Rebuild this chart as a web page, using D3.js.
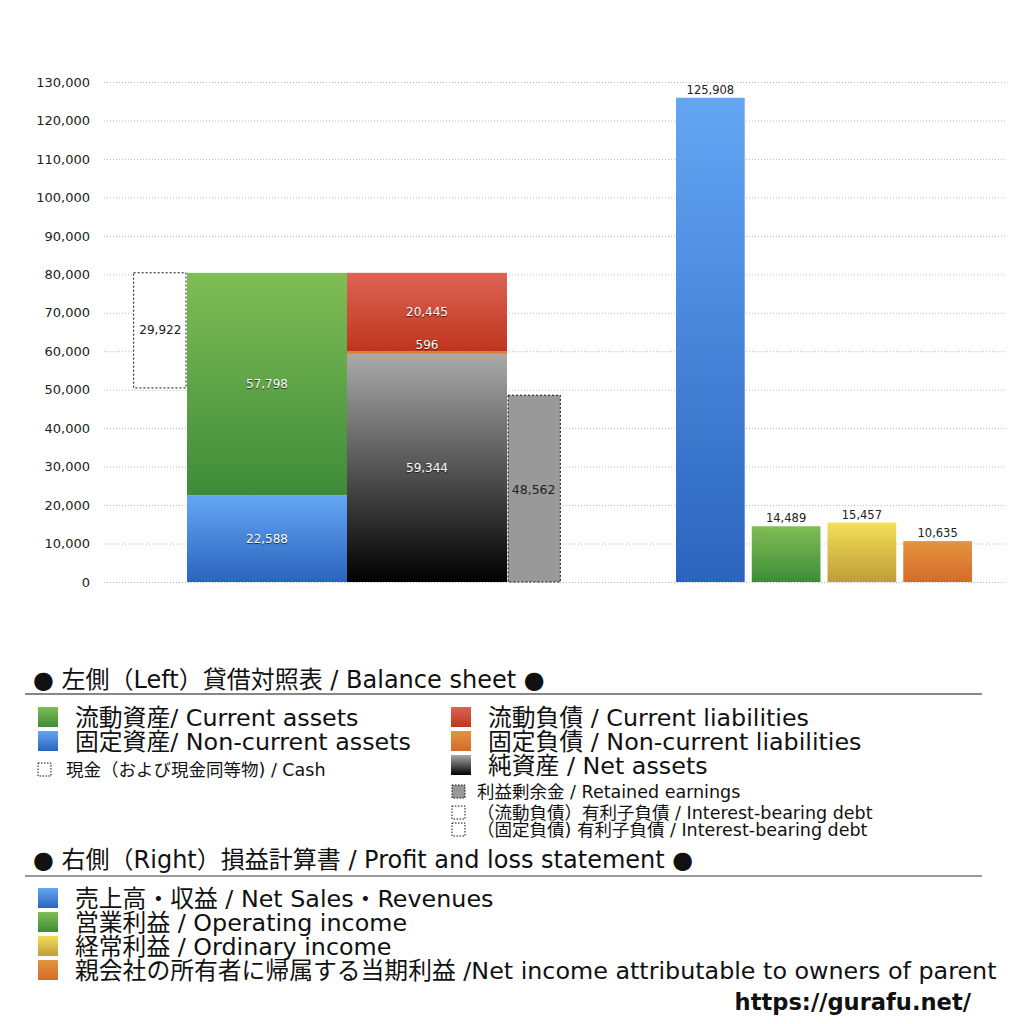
<!DOCTYPE html>
<html>
<head>
<meta charset="utf-8">
<script src="https://cdn.jsdelivr.net/npm/d3@7"></script>
<style>
  body { margin: 0; background: #fff; }
  text { font-family: "DejaVu Sans", "Noto Sans CJK JP", sans-serif; }
  .inlabel { fill: #fff; text-shadow: 0 1px 1px rgba(0,0,0,0.7); }
</style>
</head>
<body>
<div id="chart"></div>
<script>
// balance sheet (left)
var assetNames = ["固定資産", "流動資産"];
var assetValues = [22588, 57798];
var liabNames = ["純資産", "固定負債", "流動負債"];
var liabValues = [59344, 596, 20445];
var cashValue = 29922;
var retainedValue = 48562;

// profit and loss (right)
var plNames = ["売上高", "営業利益", "経常利益", "当期利益"];
var plValues = [125908, 14489, 15457, 10635];

var yTicks = [0, 10000, 20000, 30000, 40000, 50000, 60000, 70000, 80000, 90000, 100000, 110000, 120000, 130000];

var legendLeftA = ["流動資産/ Current assets", "固定資産/ Non-current assets"];
var legendLeftB = ["流動負債 /  Current liabilities", "固定負債 / Non-current liabilities", "純資産 / Net assets"];
var legendSmallA = ["現金（および現金同等物) / Cash"];
var legendSmallB = ["利益剰余金 / Retained earnings", "（流動負債）有利子負債 / Interest-bearing debt", "（固定負債) 有利子負債 / Interest-bearing debt"];
var legendRight = ["売上高・収益 / Net Sales・Revenues", "営業利益 / Operating income", "経常利益 / Ordinary income", "親会社の所有者に帰属する当期利益 /Net income attributable to owners of parent"];

var w = 1024, h = 1024;

var svg = d3.select("#chart").append("svg")
    .attr("width", w)
    .attr("height", h);

var defs = svg.append("defs");
function grad(id, top, bottom) {
    var g = defs.append("linearGradient").attr("id", id)
        .attr("x1", 0).attr("y1", 0).attr("x2", 0).attr("y2", 1);
    g.append("stop").attr("offset", "0%").attr("stop-color", top);
    g.append("stop").attr("offset", "100%").attr("stop-color", bottom);
}
grad("gBlue", "#64a6f4", "#2b64be");
grad("gGreen", "#80bd56", "#3e8c38");
grad("gRed", "#dd6456", "#bf351c");
grad("gOrange", "#e3953e", "#d46a29");
grad("gYellow", "#f4de58", "#bd9e38");
grad("gBlack", "#aaaaaa", "#000000");

var assetFills = ["url(#gBlue)", "url(#gGreen)"];
var liabFills = ["url(#gBlack)", "url(#gOrange)", "url(#gRed)"];
var plFills = ["url(#gBlue)", "url(#gGreen)", "url(#gYellow)", "url(#gOrange)"];

var y = d3.scaleLinear().domain([0, 130000]).range([582, 82]);

// gridlines + axis
var yaxis = d3.axisLeft(y)
    .tickValues(yTicks)
    .tickSize(-901)
    .tickPadding(14)
    .tickFormat(d3.format(","));

var ax = svg.append("g")
    .attr("transform", "translate(104,0)")
    .call(yaxis);
ax.select(".domain").remove();
ax.selectAll("line")
    .attr("stroke", "#bbb")
    .attr("stroke-dasharray", "1,2");
ax.selectAll("text")
    .style("font-size", "13px")
    .style("font-family", "'DejaVu Sans', sans-serif")
    .attr("fill", "#222");

// left: main columns
var xMain = d3.scaleBand()
    .domain(["assets", "liabilities"])
    .range([187, 507])
    .padding(0);
var side = xMain.bandwidth() / 3;

function stack(vals) {
    var acc = 0;
    return vals.map(function (v) { var s = acc; acc += v; return { y0: s, y1: acc, v: v }; });
}

var aStack = stack(assetValues);
var lStack = stack(liabValues);
var assetTotal = d3.sum(assetValues);

// cash (dashed)
svg.append("rect")
    .attr("x", xMain("assets") - side)
    .attr("width", side - 1)
    .attr("y", y(assetTotal))
    .attr("height", y(assetTotal - cashValue) - y(assetTotal))
    .attr("fill", "#fff")
    .attr("stroke", "#111")
    .attr("stroke-dasharray", "2,2");
svg.append("text")
    .attr("x", xMain("assets") - side / 2)
    .attr("y", y(assetTotal - cashValue / 2) + 4)
    .attr("text-anchor", "middle")
    .style("font-size", "12px")
    .attr("fill", "#222")
    .text(d3.format(",")(cashValue));

// retained earnings
svg.append("rect")
    .attr("x", xMain("liabilities") + xMain.bandwidth() + 1)
    .attr("width", side - 1)
    .attr("y", y(retainedValue))
    .attr("height", y(0) - y(retainedValue))
    .attr("fill", "#999")
    .attr("stroke", "#111")
    .attr("stroke-dasharray", "2,2");
svg.append("text")
    .attr("x", xMain("liabilities") + xMain.bandwidth() + side / 2)
    .attr("y", y(retainedValue / 2) + 5)
    .attr("text-anchor", "middle")
    .style("font-size", "12.5px")
    .attr("fill", "#222")
    .text(d3.format(",")(retainedValue));

svg.selectAll(".asset")
    .data(aStack)
    .enter().append("rect")
    .attr("x", xMain("assets"))
    .attr("width", xMain.bandwidth())
    .attr("y", function (d) { return y(d.y1); })
    .attr("height", function (d) { return y(d.y0) - y(d.y1); })
    .attr("fill", function (d, i) { return assetFills[i]; });

svg.selectAll(".liab")
    .data(lStack)
    .enter().append("rect")
    .attr("x", xMain("liabilities"))
    .attr("width", xMain.bandwidth())
    .attr("y", function (d) { return y(d.y1); })
    .attr("height", function (d) { return y(d.y0) - y(d.y1); })
    .attr("fill", function (d, i) { return liabFills[i]; });

svg.selectAll(".alabel")
    .data(aStack)
    .enter().append("text")
    .attr("class", "inlabel")
    .attr("x", xMain("assets") + xMain.bandwidth() / 2)
    .attr("y", function (d) { return y((d.y0 + d.y1) / 2) + 4; })
    .attr("text-anchor", "middle")
    .style("font-size", "12px")
    .text(function (d) { return d3.format(",")(d.v); });

svg.selectAll(".llabel")
    .data(lStack)
    .enter().append("text")
    .attr("class", "inlabel")
    .attr("x", xMain("liabilities") + xMain.bandwidth() / 2)
    .attr("y", function (d) {
        if (y(d.y0) - y(d.y1) < 14) return y(d.y1) - 2;
        return y((d.y0 + d.y1) / 2) + 4;
    })
    .attr("text-anchor", "middle")
    .style("font-size", "12px")
    .text(function (d) { return d3.format(",")(d.v); });

// right: P&L bars
var xPL = d3.scaleBand()
    .domain(plNames)
    .range([676, 972])
    .paddingInner(0.093);

svg.selectAll(".pl")
    .data(plValues)
    .enter().append("rect")
    .attr("x", function (d, i) { return xPL(plNames[i]); })
    .attr("width", xPL.bandwidth())
    .attr("y", function (d) { return y(d); })
    .attr("height", function (d) { return y(0) - y(d); })
    .attr("fill", function (d, i) { return plFills[i]; });

svg.selectAll(".pllabel")
    .data(plValues)
    .enter().append("text")
    .attr("x", function (d, i) { return xPL(plNames[i]) + xPL.bandwidth() / 2; })
    .attr("y", function (d) { return y(d) - 4; })
    .attr("text-anchor", "middle")
    .style("font-size", "11.5px")
    .attr("fill", "#222")
    .text(function (d) { return d3.format(",")(d); });

// legend
var lg = svg.append("g");

lg.append("text").attr("x", 33).attr("y", 688)
    .style("font-size", "24px").attr("fill", "#111")
    .text("● 左側（Left）貸借対照表 / Balance sheet ●");
lg.append("line").attr("x1", 25).attr("x2", 982).attr("y1", 694).attr("y2", 694)
    .attr("stroke", "#111").attr("stroke-width", 1.2);

function bigItems(list, fills, x0, y0) {
    list.forEach(function (t, i) {
        lg.append("rect").attr("x", x0).attr("y", y0 + i * 24).attr("width", 20).attr("height", 20)
            .attr("fill", fills[i]);
        lg.append("text").attr("x", x0 + 37).attr("y", y0 + i * 24 + 19)
            .style("font-size", "23.8px").attr("fill", "#111").text(t);
    });
}
// small dashed items; tops given per row
function smallItems(list, fills, x0, tops, tx) {
    list.forEach(function (t, i) {
        lg.append("rect").attr("x", x0).attr("y", tops[i]).attr("width", 13).attr("height", 13)
            .attr("fill", fills[i]).attr("stroke", "#111").attr("stroke-dasharray", "1.5,1.5");
        lg.append("text").attr("x", tx).attr("y", tops[i] + 13)
            .style("font-size", "17.5px").attr("fill", "#111").text(t);
    });
}

bigItems(legendLeftA, ["url(#gGreen)", "url(#gBlue)"], 38, 707);
smallItems(legendSmallA, ["#fff"], 38, [763], 66);
bigItems(legendLeftB, ["url(#gRed)", "url(#gOrange)", "url(#gBlack)"], 451, 707);
smallItems(legendSmallB, ["#999", "#fff", "#fff"], 452, [785, 806, 823], 477);

lg.append("text").attr("x", 33).attr("y", 868)
    .style("font-size", "24px").attr("fill", "#111")
    .text("● 右側（Right）損益計算書 / Profit and loss statement ●");
lg.append("line").attr("x1", 25).attr("x2", 982).attr("y1", 876).attr("y2", 876)
    .attr("stroke", "#777").attr("stroke-width", 1.5);

bigItems(legendRight, plFills, 38, 888);

lg.append("text").attr("x", 971).attr("y", 1010)
    .attr("text-anchor", "end")
    .style("font-size", "22.6px").style("font-weight", "bold")
    .attr("fill", "#111")
    .text("https://gurafu.net/");
</script>
</body>
</html>
